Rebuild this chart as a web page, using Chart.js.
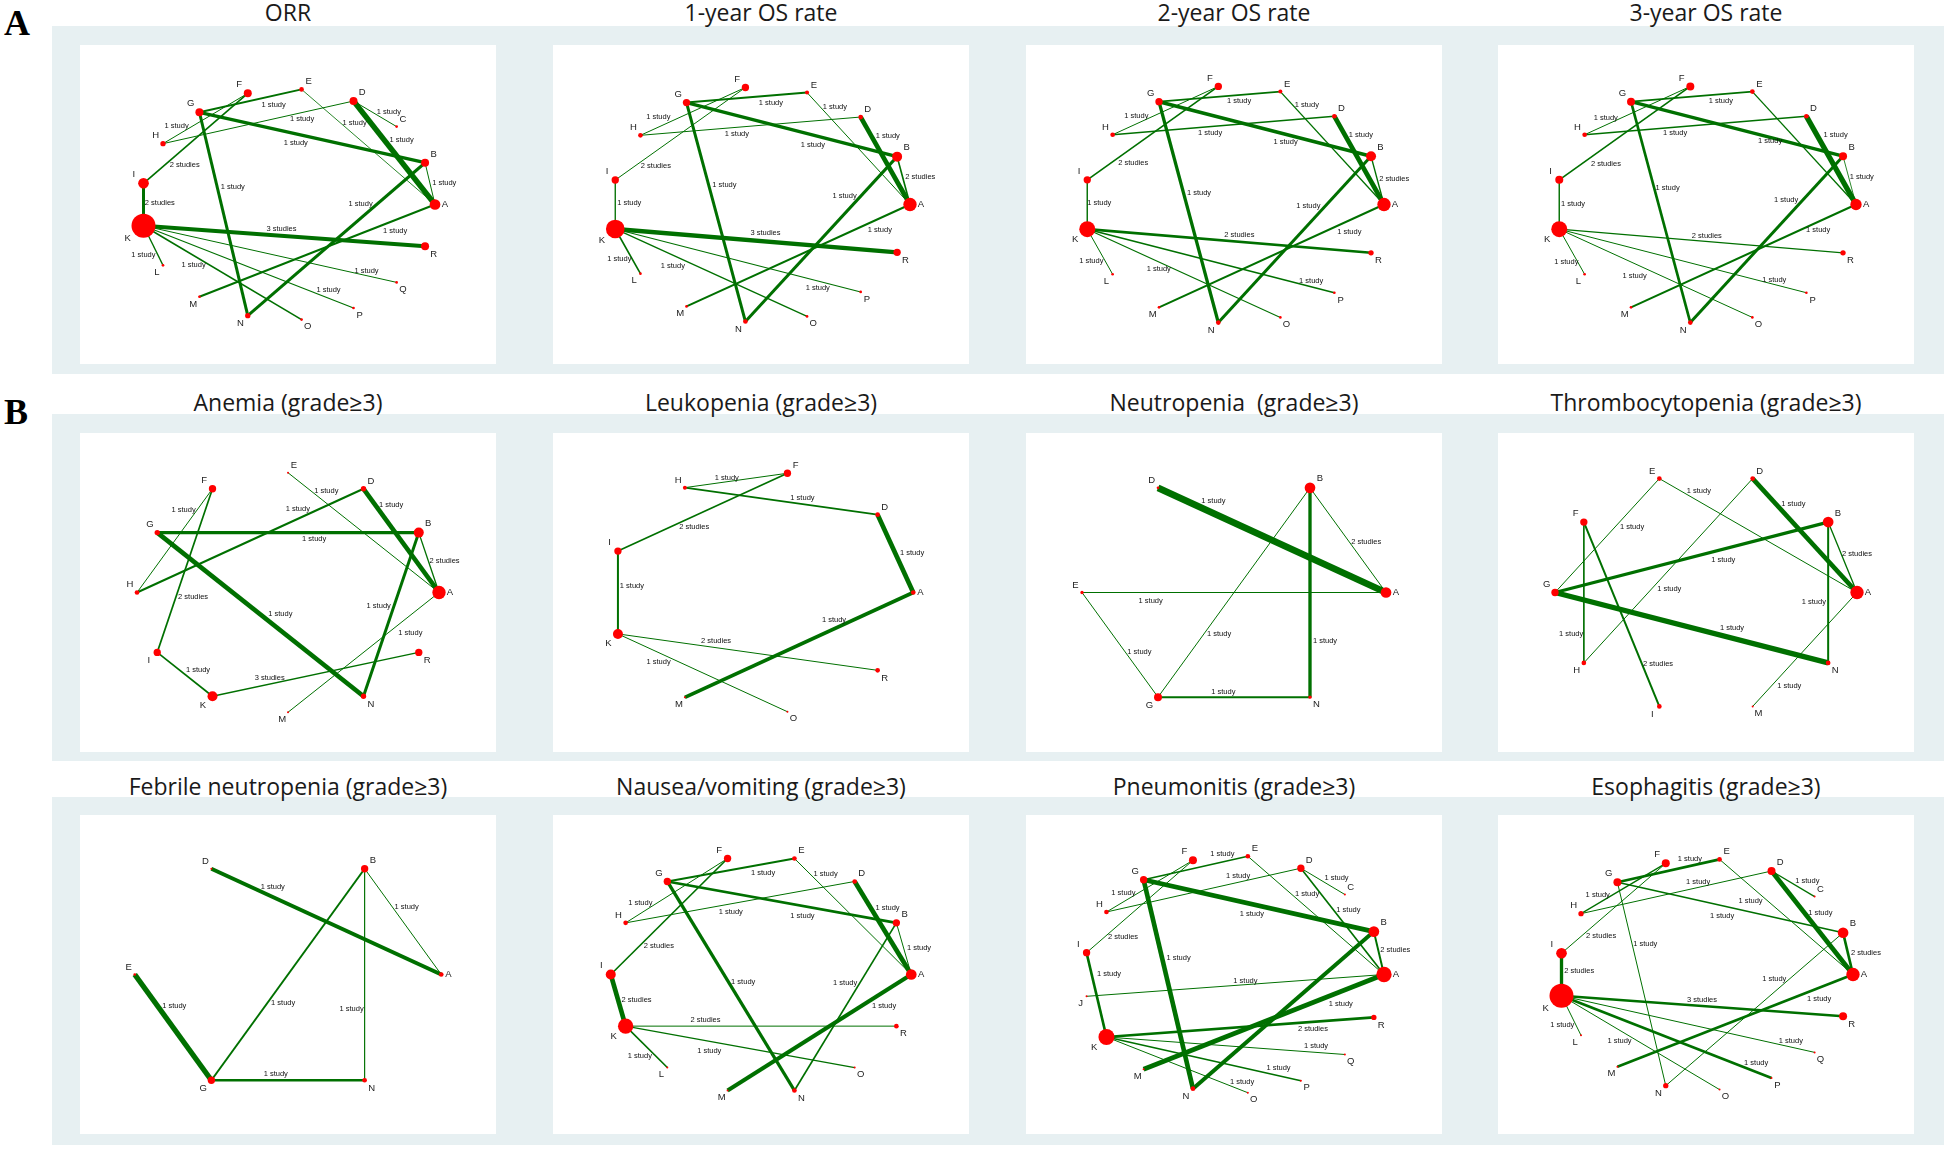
<!DOCTYPE html>
<html>
<head>
<meta charset="utf-8">
<script src="https://cdn.jsdelivr.net/npm/chart.js@4.4.1/dist/chart.umd.min.js"></script>
<style>
body{margin:0;background:#fff;width:1944px;height:1150px;position:relative;overflow:hidden;font-family:"Open Sans",sans-serif}
.band{position:absolute;background:#e7f0f2}
.box{position:absolute;background:#fff}
.title{position:absolute;width:416px;text-align:center;font-size:23px;line-height:30px;color:#1a1a1a;white-space:pre}
.tag{position:absolute;left:4px;font-family:"Liberation Serif",serif;font-weight:bold;font-size:36px;line-height:40px;color:#000}
canvas{display:block}
</style>
</head>
<body>
<div class="band" style="left:52px;top:26px;width:1892px;height:348px"></div>
<div class="band" style="left:52px;top:414px;width:1892px;height:347px"></div>
<div class="band" style="left:52px;top:797px;width:1892px;height:348px"></div>
<div class="tag" style="top:3px">A</div>
<div class="tag" style="top:392px">B</div>
<script>
// ---- data: nodes in ring order, node size (patients), edges [from, to, studies, weight] ----

// ORR
const orrNodes = ['A','B','C','D','E','F','G','H','I','K','L','M','N','O','P','Q','R'];
const orrSizes = [32,24,8,24,14,24,24,16,32,72,8,8,16,8,8,8,24];
const orrEdges = [
  ['K','R',3,12],['I','K',2,9],['I','F',2,5],['G','N',1,9],['G','B',1,10],['G','E',1,6],
  ['D','H',1,3],['H','F',1,3],['E','A',1,2.5],['D','C',1,3],['D','A',1,16],['B','A',1,3],
  ['B','N',1,9],['A','M',1,6],['K','L',1,4],['K','O',1,5],['K','Q',1,3],['K','P',1,3.5]
];

// 1-, 2-, 3-year OS rate
const osNodes = ['A','B','D','E','F','G','H','I','K','L','M','N','O','P','R'];
const os1Sizes = [40,30,14,12,22,22,14,22,56,8,8,14,8,8,22];
const os1Edges = [
  ['G','E',1,6],['E','A',1,3],['H','F',1,3],['H','D',1,3],['G','B',1,10],['D','A',1,14],
  ['B','A',2,5],['I','F',2,3],['G','N',1,9],['I','K',1,4],['B','N',1,9],['A','M',1,6],
  ['K','R',3,13],['K','L',1,5],['K','O',1,4],['K','P',1,3.5]
];
const os2Sizes = [40,30,14,12,22,22,14,22,48,8,8,14,8,8,16];
const os2Edges = [
  ['G','E',1,5],['E','A',1,4],['H','F',1,3],['H','D',1,4],['G','B',1,11],['D','A',1,14],
  ['B','A',2,4],['I','F',2,5],['G','N',1,10],['I','K',1,2.5],['B','N',1,9],['A','M',1,6],
  ['K','R',2,8],['K','L',1,3],['K','O',1,3.5],['K','P',1,5]
];
const os3Sizes = [34,24,14,14,24,24,14,24,48,8,8,14,8,8,16];
const os3Edges = [
  ['G','E',1,5],['E','A',1,4],['H','F',1,3],['H','D',1,4],['G','B',1,10],['D','A',1,16],
  ['B','A',1,2.5],['I','F',2,5],['G','N',1,8],['I','K',1,2.5],['B','N',1,9],['A','M',1,6],
  ['K','R',2,4],['K','L',1,3],['K','O',1,3],['K','P',1,3]
];

// Anemia
const anemiaNodes = ['A','B','D','E','F','G','H','I','K','M','N','R'];
const anemiaSizes = [40,30,16,6,22,16,14,22,30,6,16,22];
const anemiaEdges = [
  ['E','A',1,3],['D','A',1,14],['H','D',1,6],['F','H',1,3],['G','B',1,10],['B','A',2,4],
  ['F','I',2,5],['G','N',1,14],['B','N',1,9],['A','M',1,3],['I','K',1,5],['K','R',3,4]
];

// Leukopenia
const leukoNodes = ['A','D','F','H','I','K','M','O','R'];
const leukoSizes = [14,14,22,12,22,30,6,6,14];
const leukoEdges = [
  ['H','F',1,3],['H','D',1,5],['I','F',2,5],['D','A',1,14],['I','K',1,6],['A','M',1,11],
  ['K','R',2,3],['K','O',1,3]
];

// Neutropenia
const neutroNodes = ['A','B','D','E','G','N'];
const neutroSizes = [32,32,8,10,24,10];
const neutroEdges = [
  ['D','A',1,20],['B','A',2,3],['B','G',1,3],['B','N',1,10],['E','A',1,3],['E','G',1,3],['G','N',1,6]
];

// Thrombocytopenia
const thromboNodes = ['A','B','D','E','F','G','H','I','M','N'];
const thromboSizes = [40,32,14,14,22,22,14,14,6,14];
const thromboEdges = [
  ['E','A',1,3],['G','E',1,3],['D','A',1,14],['B','A',2,4],['G','B',1,10],['H','D',1,3],
  ['B','N',1,6],['F','H',1,3],['G','N',1,16],['F','I',2,6],['A','M',1,3]
];

// Febrile neutropenia
const febrileNodes = ['A','B','D','E','G','N'];
const febrileSizes = [14,22,6,8,22,14];
const febrileEdges = [
  ['D','A',1,12],['B','A',1,3],['B','G',1,6],['B','N',1,3.5],['E','G',1,16],['G','N',1,8]
];

// Nausea/vomiting
const nauseaNodes = ['A','B','D','E','F','G','H','I','K','L','M','N','O','R'];
const nauseaSizes = [32,22,14,14,22,22,14,30,46,6,6,14,6,14];
const nauseaEdges = [
  ['G','E',1,6],['E','A',1,3],['H','F',1,3],['H','D',1,3],['G','B',1,8],['D','A',1,14],
  ['B','A',1,3],['I','F',2,5],['G','N',1,10],['B','N',1,5],['I','K',2,14],['A','M',1,12],
  ['K','R',2,3],['K','O',1,4],['K','L',1,5]
];

// Pneumonitis
const pneumoNodes = ['A','B','C','D','E','F','G','H','I','J','K','M','N','O','P','Q','R'];
const pneumoSizes = [46,32,6,22,14,24,22,14,22,6,48,6,14,6,6,6,16];
const pneumoEdges = [
  ['G','E',1,5],['H','D',1,3],['D','C',1,3],['H','F',1,3],['E','A',1,3],['D','A',1,5],
  ['G','B',1,14],['I','F',2,3],['B','A',2,6],['G','N',1,14],['I','K',1,8],['J','A',1,3],
  ['A','M',1,14],['B','N',1,12],['K','R',2,8],['K','Q',1,3],['K','P',1,5],['K','O',1,3]
];

// Esophagitis
const esophNodes = ['A','B','C','D','E','F','G','H','I','K','L','M','N','O','P','Q','R'];
const esophSizes = [40,32,6,24,14,24,24,16,32,72,6,6,16,6,6,6,24];
const esophEdges = [
  ['G','E',1,8],['H','D',1,3],['D','C',1,4],['H','F',1,4],['E','A',1,3],['D','A',1,14],
  ['G','B',1,5],['I','F',2,3],['G','N',1,3],['B','A',2,8],['I','K',2,10],['B','N',1,3],
  ['A','M',1,8],['K','R',3,8],['K','L',1,3],['K','O',1,3],['K','Q',1,3],['K','P',1,8]
];

// ---- where each edge label sits: [fraction along edge, x shift px, y shift px] ----
const orrLabelAt = {KR:[0.49,0,-6.5],IK:[0.46,16.3,0],IF:[0.395,0,17.7],GN:[0.369,15.5,0],GB:[0.427,0,9.2],
  GE:[0.727,0,9],DH:[0.27,0,6.5],HF:[0.16,0,-9.5],EA:[0.397,0,-12],DC:[0.82,0,-10],DA:[0.378,17.3,0],
  BA:[0.49,14.3,0],BN:[0.364,0,-14.5],AM:[0.169,0,11.3],KL:[0.73,-14.3,0],KO:[0.317,0,9],KQ:[0.881,0,-4.5],KP:[0.881,0,-7.9]};
const os1LabelAt = {GE:[0.70,0,7.7],EA:[0.125,15,0],HF:[0.17,0,-10],HD:[0.438,0,6.8],GB:[0.60,0,9.8],DA:[0.218,16.3,0],
  BA:[0.418,17.8,0],IF:[0.312,0,15],GN:[0.377,15.7,0],IK:[0.46,14,0],BN:[0.237,-16.6,0],AM:[0.135,0,11.7],
  KR:[0.533,0,-8.7],KL:[0.676,-13,0],KO:[0.3,0,10.7],KP:[0.825,0,7.5]};
const os2LabelAt = {GE:[0.66,0,6.3],EA:[0.12,14,0],HF:[0.224,0,-8],HD:[0.44,0,6.2],GB:[0.597,0,7.3],DA:[0.21,16,0],
  BA:[0.48,17,0],IF:[0.35,0,16.3],GN:[0.415,15.4,0],IK:[0.46,12,0],BN:[0.30,-16.9,0],AM:[0.154,0,11.3],
  KR:[0.536,0,-6.7],KL:[0.70,-13.7,0],KO:[0.37,0,7.3],KP:[0.906,0,-6.3]};
const os3LabelAt = {GE:[0.74,0,7.1],HF:[0.2,0,-6.8],HD:[0.408,0,6.2],GB:[0.656,0,3.3],DA:[0.21,18.8,0],
  BA:[0.42,13.3,0],IF:[0.356,0,17],GN:[0.392,13.3,0],IK:[0.48,13.7,0],BN:[0.263,-16.7,0],AM:[0.168,0,8.3],
  KR:[0.52,0,-5.7],KL:[0.73,-11.5,0],KO:[0.39,0,12.7],KP:[0.87,0,-4.5]};
const anemiaLabelAt = {EA:[0.254,0,-12.3],DA:[0.155,16,0],HD:[0.71,0,-9.6],FH:[0.207,-13.3,0],GB:[0.6,0,6.7],
  BA:[0.476,16.2,0],FI:[0.659,17,0],GN:[0.597,0,-16],BN:[0.448,-15.3,0],AM:[0.19,0,17.7],IK:[0.738,0,-15],KR:[0.277,0,-6.6]};
const leukoLabelAt = {HF:[0.408,0,-3.9],HD:[0.61,0,-5.7],IF:[0.45,0,11.3],DA:[0.496,16.8,0],IK:[0.426,14,0],
  AM:[0.347,0,-9.3],KR:[0.378,0,-6.9],KO:[0.24,0,9.7]};
const neutroLabelAt = {DA:[0.243,0,-12],BA:[0.52,16.7,0],BG:[0.70,15.5,0],BN:[0.733,15,0],EA:[0.226,0,8],
  EG:[0.567,14.3,0],GN:[0.43,0,-5.3]};
const thromboLabelAt = {EA:[0.2,0,-10.5],GE:[0.578,16.8,0],DA:[0.223,17.5,0],BA:[0.448,15.9,0],GB:[0.616,0,10.4],
  HD:[0.403,17.4,0],BN:[0.564,-14.3,0],FH:[0.797,-12.7,0],GN:[0.648,0,-9.9],FI:[0.767,16.3,0],AM:[0.819,17.7,0]};
const febrileLabelAt = {DA:[0.267,0,-10.2],BA:[0.357,14.7,0],BG:[0.636,16,0],BN:[0.664,-13,0],EG:[0.294,17,0],GN:[0.42,0,-6]};
const nauseaLabelAt = {GE:[0.753,0,8.3],EA:[0.134,15.5,0],HF:[0.144,0,-10.9],HD:[0.459,0,7.6],GB:[0.59,0,9.8],
  DA:[0.282,16.9,0],BA:[0.494,15.3,0],IF:[0.2425,19.8,0],GN:[0.479,15,0],BN:[0.358,-14.7,0],IK:[0.497,18.4,0],
  AM:[0.148,0,14.7],KR:[0.295,0,-5.7],KO:[0.365,0,9.7],KL:[0.34,0,15.7]};
const pneumoLabelAt = {GE:[0.755,0,-7.7],HD:[0.677,0,-6.3],DC:[0.81,0,-11.7],HF:[0.196,0,-9.1],EA:[0.435,0,-13.7],
  DA:[0.395,14.7,0],GB:[0.47,0,9.7],IF:[0.343,0,16],BA:[0.438,17,0],GN:[0.374,16.5,0],IK:[0.257,17.3,0],
  JA:[0.534,0,-4.2],AM:[0.18,0,12.7],KR:[0.772,0,6.9],KQ:[0.879,0,-6.3],KP:[0.885,0,-7.7],KO:[0.959,0,-8.3]};
const esophLabelAt = {GE:[0.71,0,-7.1],HD:[0.615,0,-5.2],DC:[0.83,0,-11],HF:[0.197,0,-8.8],EA:[0.232,0,14.4],
  DA:[0.403,16,0],GB:[0.464,0,10],IF:[0.38,0,16.7],GN:[0.301,13.3,0],BA:[0.489,18,0],IK:[0.42,17.7,0],
  BN:[0.388,0,-13],AM:[0.1436,0,11.3],KR:[0.499,0,-6.5],KL:[0.74,-13.7,0],KO:[0.367,0,11],KQ:[0.906,0,-5.9],KP:[0.927,0,-8.6]};

const panels = [
  {title:'ORR', nodes:orrNodes, sizes:orrSizes, edges:orrEdges, labelAt:orrLabelAt},
  {title:'1-year OS rate', nodes:osNodes, sizes:os1Sizes, edges:os1Edges, labelAt:os1LabelAt},
  {title:'2-year OS rate', nodes:osNodes, sizes:os2Sizes, edges:os2Edges, labelAt:os2LabelAt},
  {title:'3-year OS rate', nodes:osNodes, sizes:os3Sizes, edges:os3Edges, labelAt:os3LabelAt},
  {title:'Anemia (grade≥3)', nodes:anemiaNodes, sizes:anemiaSizes, edges:anemiaEdges, labelAt:anemiaLabelAt},
  {title:'Leukopenia (grade≥3)', nodes:leukoNodes, sizes:leukoSizes, edges:leukoEdges, labelAt:leukoLabelAt},
  {title:'Neutropenia  (grade≥3)', nodes:neutroNodes, sizes:neutroSizes, edges:neutroEdges, labelAt:neutroLabelAt},
  {title:'Thrombocytopenia (grade≥3)', nodes:thromboNodes, sizes:thromboSizes, edges:thromboEdges, labelAt:thromboLabelAt},
  {title:'Febrile neutropenia (grade≥3)', nodes:febrileNodes, sizes:febrileSizes, edges:febrileEdges, labelAt:febrileLabelAt},
  {title:'Nausea/vomiting (grade≥3)', nodes:nauseaNodes, sizes:nauseaSizes, edges:nauseaEdges, labelAt:nauseaLabelAt},
  {title:'Pneumonitis (grade≥3)', nodes:pneumoNodes, sizes:pneumoSizes, edges:pneumoEdges, labelAt:pneumoLabelAt},
  {title:'Esophagitis (grade≥3)', nodes:esophNodes, sizes:esophSizes, edges:esophEdges, labelAt:esophLabelAt}
];

// ---- layout / style ----
const BOX_W = 416, BOX_H = 319;
const boxLeft = [80, 553, 1026, 1498];
const boxTop = [45, 433, 815];
const titleMid = [12, 402, 786];
const RX = 156, RY = 125;              // ring radii in px
const EDGE_COLOR = 'rgb(0,112,0)';
const EDGE_SCALE = 1/3, NODE_SCALE = 1/6;

function sgn(v, fallback) {
  return Math.abs(v) < 1e-9 ? fallback : Math.sign(v);
}

panels.forEach((p, k) => {
  const col = k % 4, row = Math.floor(k / 4);

  const box = document.createElement('div');
  box.className = 'box';
  box.style.left = boxLeft[col] + 'px';
  box.style.top = boxTop[row] + 'px';
  box.style.width = BOX_W + 'px';
  box.style.height = BOX_H + 'px';
  const cv = document.createElement('canvas');
  cv.width = BOX_W; cv.height = BOX_H;
  cv.style.width = BOX_W + 'px'; cv.style.height = BOX_H + 'px';
  box.appendChild(cv);
  document.body.appendChild(box);

  const t = document.createElement('div');
  t.className = 'title';
  t.textContent = p.title;
  t.style.left = boxLeft[col] + 'px';
  t.style.top = (titleMid[row] - 15) + 'px';
  document.body.appendChild(t);

  // ring layout, A at 3 o'clock, going counter-clockwise
  const n = p.nodes.length;
  const pos = {};
  p.nodes.forEach((id, i) => {
    const a = 2 * Math.PI * i / n;
    pos[id] = {x: Math.cos(a), y: Math.sin(a), r: p.sizes[i] * NODE_SCALE};
  });

  const datasets = p.edges.map(e => ({
    data: [{x: pos[e[0]].x, y: pos[e[0]].y}, {x: pos[e[1]].x, y: pos[e[1]].y}],
    showLine: true,
    borderColor: EDGE_COLOR,
    borderWidth: e[3] * EDGE_SCALE,
    pointRadius: 0,
    pointHoverRadius: 0,
    clip: false,
    order: 1
  }));
  datasets.push({
    data: p.nodes.map(id => ({x: pos[id].x, y: pos[id].y})),
    showLine: false,
    pointRadius: p.nodes.map(id => pos[id].r),
    pointHoverRadius: p.nodes.map(id => pos[id].r),
    pointBackgroundColor: '#ff0000',
    pointBorderColor: '#ff0000',
    pointBorderWidth: 0,
    clip: false,
    order: 0
  });

  const netLabels = {
    id: 'netLabels',
    afterDatasetsDraw(chart) {
      const ctx = chart.ctx, sx = chart.scales.x, sy = chart.scales.y;
      const px = id => ({x: sx.getPixelForValue(pos[id].x), y: sy.getPixelForValue(pos[id].y)});
      ctx.save();
      ctx.textAlign = 'center';
      ctx.textBaseline = 'middle';

      // study counts on the edges
      ctx.fillStyle = '#111';
      ctx.font = '7.5px "Liberation Sans", Arial, sans-serif';
      p.edges.forEach(e => {
        const spot = p.labelAt[e[0] + e[1]];
        if (!spot) return;
        const a = px(e[0]), b = px(e[1]);
        const x = a.x + spot[0] * (b.x - a.x) + spot[1];
        const y = a.y + spot[0] * (b.y - a.y) + spot[2];
        ctx.fillText(e[2] === 1 ? '1 study' : e[2] + ' studies', x, y);
      });

      // treatment letters outside each node
      ctx.fillStyle = '#222';
      ctx.font = '9.5px "Liberation Sans", Arial, sans-serif';
      p.nodes.forEach(id => {
        const c = pos[id].x, s = pos[id].y, r = pos[id].r;
        const dx = sgn(c, s > 0 ? 1 : -1) * (5 + 0.9 * r);
        const dy = -sgn(s, c > 0 ? 0 : 1) * (6.5 + 0.5 * r);
        const q = px(id);
        ctx.fillText(id, q.x + dx, q.y + dy);
      });
      ctx.restore();
    }
  };

  new Chart(cv, {
    type: 'scatter',
    data: {datasets},
    options: {
      responsive: false,
      maintainAspectRatio: false,
      animation: false,
      devicePixelRatio: 1,
      events: [],
      layout: {padding: 0},
      scales: {
        x: {type: 'linear', min: -BOX_W / 2 / RX, max: BOX_W / 2 / RX, display: false},
        y: {type: 'linear', min: -BOX_H / 2 / RY, max: BOX_H / 2 / RY, display: false}
      },
      plugins: {legend: {display: false}, tooltip: {enabled: false}}
    },
    plugins: [netLabels]
  });
});
</script>
</body>
</html>
